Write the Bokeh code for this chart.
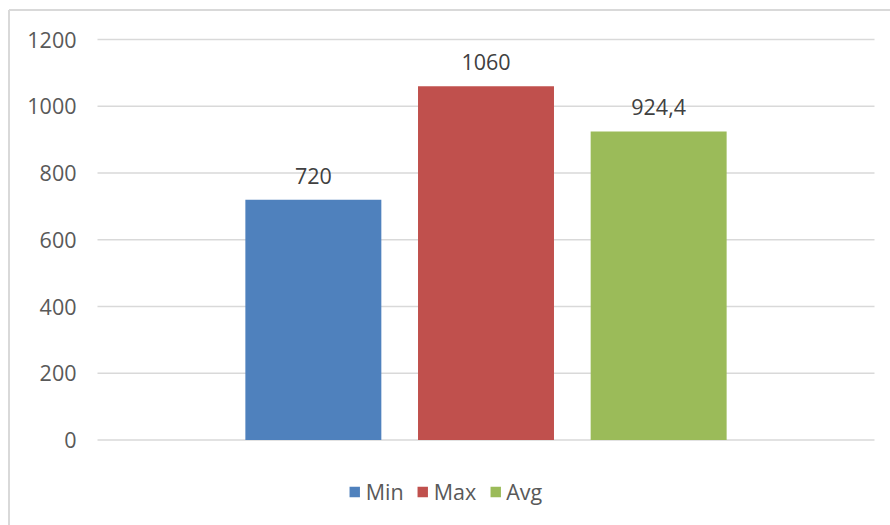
from bokeh.plotting import figure
from bokeh.models import ColumnDataSource, Range1d, Legend, LegendItem
from bokeh.core.properties import value
from bokeh.embed import file_html
from bokeh.resources import INLINE

# Data
series = ["Min", "Max", "Avg"]
values = [720, 1060, 924.4]
colors = ["#4F81BD", "#C0504D", "#9BBB59"]
y_ticks = [0, 200, 400, 600, 800, 1000, 1200]
y_tick_labels = ["0", "200", "400", "600", "800", "1000", "1200"]

# Layout (pixels)
W, H = 890, 525
PLOT_LEFT, PLOT_RIGHT = 97, 874
PLOT_TOP, PLOT_BOTTOM = 39, 439.5
Y_MAX = 1200
BAR_WIDTH = 0.175      # fraction of the category width
BAR_STEP = 0.2222      # distance between neighbouring bar centres
FONT = "Open Sans"
FONT_SIZE = "21.5px"
GRID_COLOR = "#D9D9D9"

ppu_y = (PLOT_BOTTOM - PLOT_TOP) / Y_MAX
ppu_x = (PLOT_RIGHT - PLOT_LEFT) / 1.0
x_range = Range1d(-PLOT_LEFT / ppu_x, 1 + (W - PLOT_RIGHT) / ppu_x)
y_range = Range1d(-(H - PLOT_BOTTOM) / ppu_y, Y_MAX + PLOT_TOP / ppu_y)


def px_x(px):
    return x_range.start + px / ppu_x


def px_y(py):
    return y_range.end - py / ppu_y


p = figure(width=W, height=H, x_range=x_range, y_range=y_range,
           x_axis_location=None, y_axis_location=None,
           toolbar_location=None, output_backend="svg", min_border=0)
p.outline_line_color = None
p.background_fill_color = "white"
p.border_fill_color = "white"
p.grid.visible = False

# Chart area border (left and top edges; the rest runs off the page)
p.segment(x0=[px_x(8.5), px_x(8.5)], y0=[px_y(9.5), px_y(9.5)],
          x1=[px_x(8.5), px_x(W + 10)], y1=[px_y(H + 10), px_y(9.5)],
          line_color=GRID_COLOR, line_width=2)

# Horizontal gridlines
p.segment(x0=[0] * len(y_ticks), x1=[1] * len(y_ticks), y0=y_ticks, y1=y_ticks,
          line_color=GRID_COLOR, line_width=1.5)

# Y tick labels
p.text(x=[0] * len(y_ticks), y=y_ticks, text=y_tick_labels,
       x_offset=-21, text_align="right", text_baseline="middle",
       text_font=value(FONT), text_font_size=FONT_SIZE, text_color="#595959")

# Bars
xs = [0.5 + (i - (len(series) - 1) / 2) * BAR_STEP for i in range(len(series))]
labels = [(f"{v:g}").replace(".", ",") for v in values]
src = ColumnDataSource(dict(x=xs, top=values, series=series, color=colors, label=labels))
bars = p.vbar(x="x", top="top", bottom=0, width=BAR_WIDTH, fill_color="color",
              line_color=None, source=src)

# Value labels
p.text(x="x", y="top", text="label", source=src, y_offset=-24,
       text_align="center", text_baseline="middle",
       text_font=value(FONT), text_font_size=FONT_SIZE, text_color="#404040")

# Legend
legend = Legend(items=[LegendItem(label=s, renderers=[bars], index=i)
                       for i, s in enumerate(series)],
                location="bottom_center", orientation="horizontal")
legend.glyph_width = 13
legend.glyph_height = 13
legend.label_standoff = 5
legend.spacing = 12
legend.padding = 0
legend.margin = 19
legend.border_line_color = None
legend.background_fill_alpha = 0
legend.label_text_font = FONT
legend.label_text_font_size = FONT_SIZE
legend.label_text_color = "#595959"
legend.label_height = 13
p.add_layout(legend, "center")

open("out.html", "w").write(file_html(p, INLINE))
